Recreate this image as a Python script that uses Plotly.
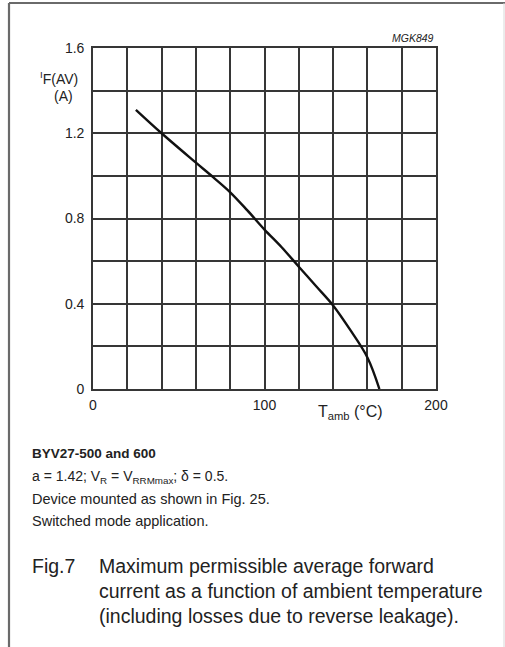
import plotly.graph_objects as go

# Derating curve: ambient temperature (°C) vs max average forward current (A)
t_amb = [25, 40, 60, 70, 80, 90, 100, 110, 120, 130, 140, 150, 160, 167]
i_fav = [1.31, 1.20, 1.062, 0.994, 0.923, 0.838, 0.748, 0.665, 0.574,
         0.483, 0.392, 0.277, 0.148, 0.0]

x_ticks = [0, 20, 40, 60, 80, 100, 120, 140, 160, 180, 200]
x_labels = ["0", "", "", "", "", "100", "", "", "", "", "200"]
y_ticks = [0, 0.2, 0.4, 0.6, 0.8, 1.0, 1.2, 1.4, 1.6]
y_labels = ["0", "", "0.4", "", "0.8", "", "1.2", "", "1.6"]

FONT = "Liberation Sans, Arial, sans-serif"
INK = "#222222"
GRID = "#363636"

fig = go.Figure()
fig.add_trace(go.Scatter(
    x=t_amb, y=i_fav, mode="lines",
    line=dict(color="#111111", width=2.4, shape="spline", smoothing=1.0),
    showlegend=False, hoverinfo="skip",
))

axis_common = dict(
    showgrid=True, gridcolor=GRID, gridwidth=1.5,
    showline=True, linecolor=GRID, linewidth=1.6, mirror=True,
    zeroline=False, ticks="", tickfont=dict(family=FONT, size=14, color=INK),
)
fig.update_xaxes(range=[0, 200], tickvals=x_ticks, ticktext=x_labels,
                 ticklabelstandoff=2, **axis_common)
fig.update_yaxes(range=[0, 1.6], tickvals=y_ticks, ticktext=y_labels,
                 ticklabelstandoff=4, **axis_common)

W, H = 505, 647
L, R, T, B = 93, 69, 48, 258
PW, PH = W - L - R, H - T - B


def px(x):
    # page pixel -> paper fraction (paper spans the plot area)
    return (x - L) / PW


def py(y):
    return (H - B - y) / PH


notes = []


def note(x, y, text, size, anchor="left", **kw):
    notes.append(dict(
        xref="paper", yref="paper", x=px(x), y=py(y), text=text,
        showarrow=False, xanchor=anchor, yanchor="middle",
        font=dict(family=FONT, size=size, color=INK), **kw,
    ))


# chart reference code
note(436, 38, "<i>MGK849</i>", 10.5, anchor="right")
# axis titles
note(59, 78, "<sup>I</sup>F(AV)", 14, anchor="center")
note(63, 96, "(A)", 14, anchor="center")
note(350, 412, "T<sub>amb</sub> (°C)", 16, anchor="center")

# caption block
note(30, 453, "<b>BYV27-500 and 600</b>", 13.5)
note(30, 477, "a = 1.42; V<sub>R</sub> = V<sub>RRMmax</sub>; δ = 0.5.", 14)
note(30, 499, "Device mounted as shown in Fig. 25.", 14.5)
note(30, 521, "Switched mode application.", 14.5)
note(30, 566, "Fig.7", 19.5)
note(97, 566, "Maximum permissible average forward", 19.5)
note(97, 591, "current as a function of ambient temperature", 19.5)
note(97, 616, "(including losses due to reverse leakage).", 19.5)

# page frame lines
shapes = [
    dict(type="line", xref="paper", yref="paper",
         x0=px(9), x1=px(505), y0=py(3), y1=py(3),
         line=dict(color="#6a6a6a", width=2.2)),
    dict(type="line", xref="paper", yref="paper",
         x0=px(9), x1=px(9), y0=py(3), y1=py(647),
         line=dict(color="#6a6a6a", width=2.2)),
    dict(type="line", xref="paper", yref="paper",
         x0=px(504), x1=px(504), y0=py(3), y1=py(647),
         line=dict(color="#d8d8d8", width=1)),
]

fig.update_layout(
    width=W, height=H,
    margin=dict(l=L, r=R, t=T, b=B),
    paper_bgcolor="white", plot_bgcolor="white",
    annotations=notes, shapes=shapes,
    font=dict(family=FONT, color=INK),
)

fig.write_html("out.html")
